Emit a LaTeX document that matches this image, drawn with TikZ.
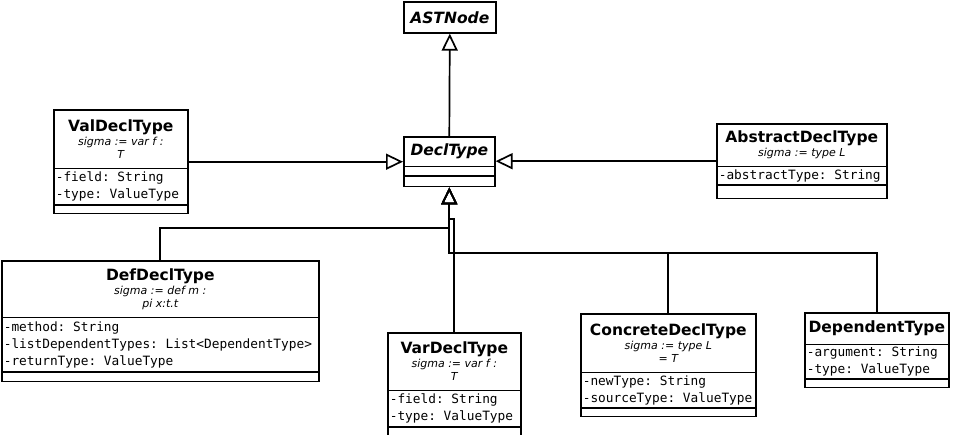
\documentclass[tikz,border=0pt]{standalone}
\usepackage{fontspec}
\setmainfont{DejaVu Sans}
\setmonofont{DejaVu Sans Mono}
\usetikzlibrary{arrows.meta,shapes.multipart}
\newcommand{\clsfont}{\bfseries\fontsize{15.5}{18}\selectfont}
\newcommand{\absfont}{\bfseries\itshape\fontsize{15.5}{18}\selectfont}
\newcommand{\sigfont}{\itshape\fontsize{11}{13}\selectfont}
\newcommand{\attfont}{\ttfamily\fontsize{12.8}{17}\selectfont}
\tikzset{
  umlclass/.style={draw, rectangle split, rectangle split parts=3, inner sep=0pt,
                   anchor=north west, line width=1.6pt},
  inherit/.style={-{Triangle[open, width=16pt, length=17pt]}, line width=1.7pt}
}

\begin{document}
\begin{tikzpicture}[x=1pt, y=-1pt]
            \useasboundingbox (0,0) rectangle (958,434);
            % Root of the hierarchy
            \node[draw, line width=1.6pt, inner sep=0pt, anchor=north west,
                  minimum width=92pt, minimum height=31pt] (astnode) at (403,1) {\absfont ASTNode};
            \node[umlclass] (decltype) at (403,136)
                 {\parbox[c][28pt][c]{91pt}{\centering\absfont DeclType}
                  \nodepart{two}\parbox[c][8pt][c]{91pt}{}
                  \nodepart{three}\parbox[c][9pt][c]{91pt}{}};
            % Side classes
            \node[umlclass] (valdecl) at (53,109)
                 {\parbox[c][57pt][c]{134pt}{\centering{\clsfont ValDeclType\par}\vspace{1pt}\sigfont sigma := var f :\\ T}
                  \nodepart{two}\parbox[c][35pt][c]{134pt}{\attfont\leftskip=2pt -field: String\\ -type: ValueType}
                  \nodepart{three}\parbox[c][7pt][c]{134pt}{}};
            \node[umlclass] (absdecl) at (716,123)
                 {\parbox[c][41pt][c]{170pt}{\centering{\clsfont AbstractDeclType\par}\vspace{1pt}\sigfont sigma := type L}
                  \nodepart{two}\parbox[c][17pt][c]{170pt}{\attfont\leftskip=2pt -abstractType: String}
                  \nodepart{three}\parbox[c][12pt][c]{170pt}{}};
            % Lower classes
            \node[umlclass] (defdecl) at (1,260)
                 {\parbox[c][55pt][c]{317pt}{\centering{\clsfont DefDeclType\par}\vspace{1pt}\sigfont sigma := def m :\\ pi x:t.t}
                  \nodepart{two}\parbox[c][53pt][c]{317pt}{\attfont\leftskip=2pt -method: String\\ -listDependentTypes: List<DependentType>\\ -returnType: ValueType}
                  \nodepart{three}\parbox[c][8pt][c]{317pt}{}};
            \node[umlclass] (vardecl) at (387,332)
                 {\parbox[c][56pt][c]{133pt}{\centering{\clsfont VarDeclType\par}\vspace{1pt}\sigfont sigma := var f :\\ T}
                  \nodepart{two}\parbox[c][35pt][c]{133pt}{\attfont\leftskip=2pt -field: String\\ -type: ValueType}
                  \nodepart{three}\parbox[c][10pt][c]{133pt}{}};
            \node[umlclass] (concdecl) at (580,313)
                 {\parbox[c][57pt][c]{175pt}{\centering{\clsfont ConcreteDeclType\par}\vspace{1pt}\sigfont sigma := type L\\ = T}
                  \nodepart{two}\parbox[c][34pt][c]{175pt}{\attfont\leftskip=2pt -newType: String\\ -sourceType: ValueType}
                  \nodepart{three}\parbox[c][7pt][c]{175pt}{}};
            \node[umlclass] (deptype) at (804,312)
                 {\parbox[c][30pt][c]{144pt}{\centering\clsfont DependentType}
                  \nodepart{two}\parbox[c][33pt][c]{144pt}{\attfont\leftskip=2pt -argument: String\\ -type: ValueType}
                  \nodepart{three}\parbox[c][7pt][c]{144pt}{}};
            % Generalisations
            \draw[inherit] (decltype.north) -- (astnode.south);
            \draw[inherit] (valdecl.east) -- (valdecl.east -| decltype.west);
            \draw[inherit] (absdecl.west) -- (absdecl.west -| decltype.east);
            \draw[inherit] (defdecl.north) -- ++(0,-32) -| (decltype.south);
            \draw[inherit] (vardecl.north) -- ++(0,-113) -| (decltype.south);
            \draw[inherit] (concdecl.north) -- ++(0,-60) -| (decltype.south);
            \draw[inherit] (deptype.north) -- ++(0,-59) -| (decltype.south);
        \end{tikzpicture}
\end{document}
